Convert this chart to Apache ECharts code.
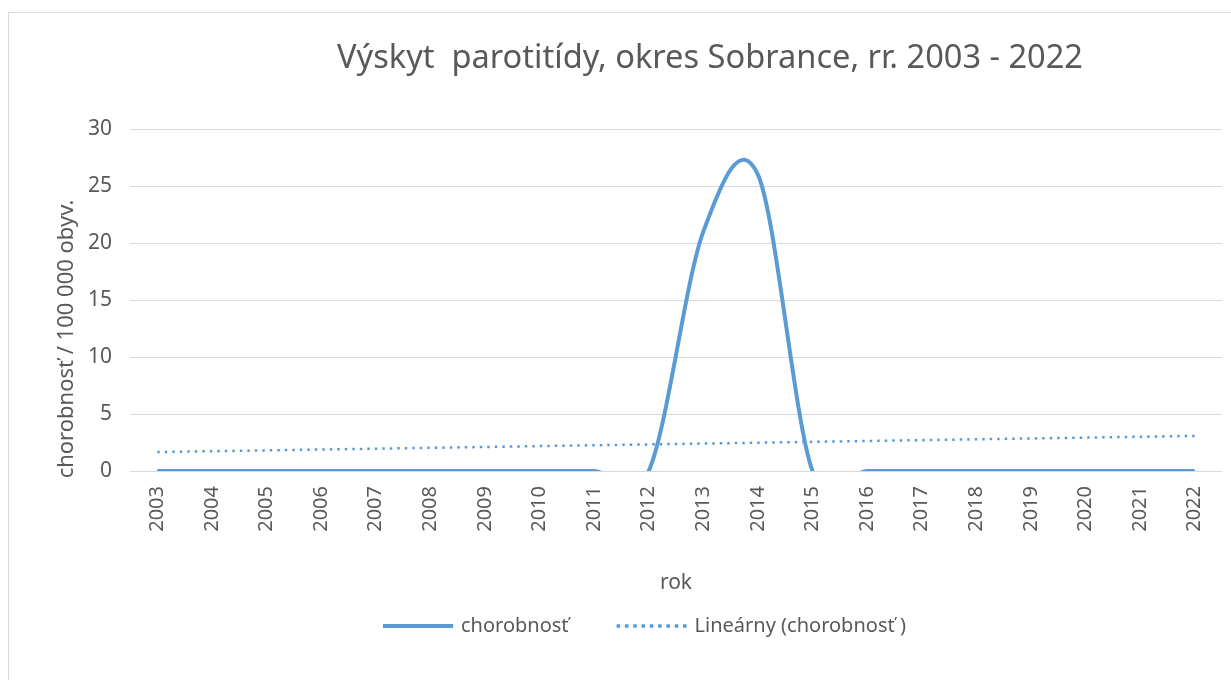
<!DOCTYPE html>
<html>
<head>
<meta charset="utf-8">
<script src="https://cdn.jsdelivr.net/npm/echarts@6/dist/echarts.min.js"></script>
<style>
  html, body { margin: 0; padding: 0; background: #fff; }
  #frame { position: absolute; left: 8px; top: 12px; width: 1240px; height: 680px; border: 1px solid #d9d9d9; box-sizing: border-box; }
  #main { position: absolute; left: 0; top: 0; width: 1231px; height: 680px; }
</style>
</head>
<body>
<div id="frame"></div>
<div id="main"></div>
<script>
    // roky a chorobnosť na 100 000 obyv.
    var years = ['2003', '2004', '2005', '2006', '2007', '2008', '2009', '2010', '2011', '2012',
                 '2013', '2014', '2015', '2016', '2017', '2018', '2019', '2020', '2021', '2022'];
    var incidence = [0, 0, 0, 0, 0, 0, 0, 0, 0, 0, 21.0, 26.0, 0, 0, 0, 0, 0, 0, 0, 0];
    // lineárny trend - koncové body odčítané z grafu
    var trendStart = 1.66;
    var trendEnd = 3.08;
    var yTicks = [0, 5, 10, 15, 20, 25, 30];

    var trend = [];
    for (var i = 0; i < years.length; i++) {
        trend.push(null);
    }
    trend[0] = trendStart;
    trend[years.length - 1] = trendEnd;

    var lineColor = '#5B9BD5';
    var textColor = '#595959';
    var fontName = '"Noto Sans", sans-serif';

    // vyhladená krivka ako v Exceli (Catmull-Rom -> Bezier)
    function renderSmooth(params, api) {
        if (params.dataIndex !== 0) {
            return;
        }
        var pts = [];
        for (var k = 0; k < incidence.length; k++) {
            pts.push(api.coord([k, incidence[k]]));
        }
        var d = 'M' + pts[0][0] + ',' + pts[0][1];
        for (var k = 0; k < pts.length - 1; k++) {
            var p0 = pts[Math.max(k - 1, 0)];
            var p1 = pts[k];
            var p2 = pts[k + 1];
            var p3 = pts[Math.min(k + 2, pts.length - 1)];
            var c1x = p1[0] + (p2[0] - p0[0]) / 6;
            var c1y = p1[1] + (p2[1] - p0[1]) / 6;
            var c2x = p2[0] - (p3[0] - p1[0]) / 6;
            var c2y = p2[1] - (p3[1] - p1[1]) / 6;
            d += ' C' + c1x + ',' + c1y + ' ' + c2x + ',' + c2y + ' ' + p2[0] + ',' + p2[1];
        }
        return {
            type: 'path',
            shape: { pathData: d },
            style: { stroke: lineColor, lineWidth: 4, fill: null, lineJoin: 'round' }
        };
    }

    var seriesData = [];
    for (var j = 0; j < incidence.length; j++) {
        seriesData.push([j, incidence[j]]);
    }

    var dotIcon = 'path://';
    for (var n = 0; n < 9; n++) {
        dotIcon += 'M' + (n * 7) + ',5 h3 v3 h-3 Z ';
    }

    var option = {
        animation: false,
        title: {
            text: 'Výskyt  parotitídy, okres Sobrance, rr. 2003 - 2022',
            left: 705,
            top: 37,
            textAlign: 'center',
            textStyle: { fontFamily: fontName, fontSize: 32.6, fontWeight: 'normal', color: textColor }
        },
        legend: {
            left: 378,
            top: 611,
            itemGap: 48,
            itemWidth: 70,
            itemHeight: 14,
            textStyle: { fontFamily: fontName, fontSize: 20, color: textColor, padding: [0, 0, 0, 3] },
            data: [
                { name: 'chorobnosť', icon: 'path://M0,5 L70,5 L70,9 L0,9 Z', itemStyle: { color: lineColor } },
                { name: 'Lineárny (chorobnosť )', icon: dotIcon, itemStyle: { color: lineColor } }
            ]
        },
        graphic: [{
            type: 'text',
            x: 67,
            y: 339,
            rotation: Math.PI / 2,
            style: {
                text: 'chorobnosť / 100 000 obyv.',
                font: '22px "Noto Sans", sans-serif',
                fill: textColor,
                align: 'center',
                verticalAlign: 'middle'
            }
        }],
        grid: { left: 130, right: 9, top: 129, bottom: 209, containLabel: false },
        xAxis: {
            type: 'category',
            data: years,
            boundaryGap: true,
            name: 'rok',
            nameLocation: 'middle',
            nameGap: 102,
            nameTextStyle: { fontFamily: fontName, fontSize: 21, color: textColor },
            axisLine: { lineStyle: { color: '#d9d9d9', width: 1 } },
            axisTick: { show: false },
            axisLabel: { rotate: 90, fontFamily: fontName, fontSize: 20, color: textColor, margin: 15 }
        },
        yAxis: {
            type: 'value',
            min: yTicks[0],
            max: yTicks[yTicks.length - 1],
            interval: 5,
            axisLine: { show: false },
            axisTick: { show: false },
            splitLine: { lineStyle: { color: '#d9d9d9', width: 1 } },
            axisLabel: { fontFamily: fontName, fontSize: 21, color: textColor, margin: 18 }
        },
        series: [
            {
                name: 'chorobnosť',
                type: 'custom',
                data: seriesData,
                encode: { x: 0, y: 1 },
                clip: true,
                renderItem: renderSmooth,
                itemStyle: { color: lineColor }
            },
            {
                name: 'Lineárny (chorobnosť )',
                type: 'line',
                data: trend,
                connectNulls: true,
                showSymbol: false,
                symbol: 'none',
                lineStyle: { color: lineColor, width: 2.5, type: [2.5, 5] },
                itemStyle: { color: lineColor }
            }
        ]
    };

    var myChart = echarts.init(document.getElementById('main'));
    myChart.setOption(option);
</script>
</body>
</html>
